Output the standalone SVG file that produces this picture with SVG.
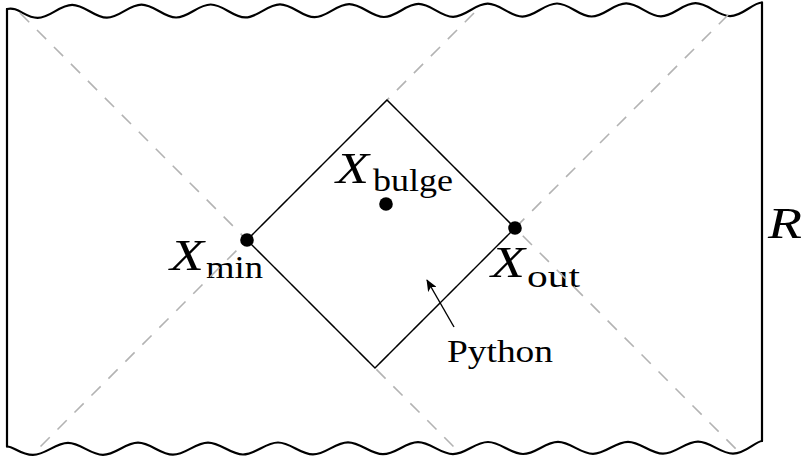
<svg xmlns="http://www.w3.org/2000/svg" width="807" height="458" viewBox="0 0 807 458">
<style>
.wall{fill:none;stroke:#000;stroke-width:2.2;stroke-linejoin:round;stroke-linecap:round}
.dash{fill:none;stroke:#b3b3b3;stroke-width:1.6;stroke-dasharray:13 11}
.edge{fill:none;stroke:#000;stroke-width:1.4;stroke-linejoin:miter}
.dot{fill:#000}
.mX{font-family:"Liberation Serif","DejaVu Serif",serif;font-style:italic;font-size:45px;fill:#000}
.sub{font-family:"Liberation Serif","DejaVu Serif",serif;font-size:31px;fill:#000}
.lbl{font-family:"Liberation Serif","DejaVu Serif",serif;font-size:32px;fill:#000}
.arr{fill:none;stroke:#000;stroke-width:1.4}
</style>
<defs>
<marker id="ah" viewBox="0 0 12 10" refX="11" refY="5" markerWidth="12" markerHeight="10" markerUnits="userSpaceOnUse" orient="auto">
<path d="M0,0 L12,5 L0,10 L3,5 Z" fill="#000"/>
</marker>
</defs>
<rect width="807" height="458" fill="#fff"/>
<g id="frame">
<path class="wall" d="M7,9 C18,6 25,17.9 37.6,17.9 S59.6,4.8 72.2,4.8 S94.3,17.7 106.9,17.7 S128.9,4.6 141.5,4.6 S163.5,17.5 176.1,17.5 S198.1,4.5 210.7,4.5 S232.8,17.4 245.4,17.4 S267.4,4.3 280,4.3 S302,17.2 314.6,17.2 S336.6,4.1 349.2,4.1 S371.3,17 383.9,17 S405.9,3.9 418.5,3.9 S440.5,16.8 453.1,16.8 S475.1,3.7 487.7,3.7 S509.8,16.6 522.4,16.6 S544.4,3.5 557,3.5 S579,16.5 591.6,16.5 S613.6,3.4 626.2,3.4 S648.3,16.3 660.9,16.3 S682.9,3.2 695.5,3.2 S717.5,16.1 730.1,16.1 S752,3 762,2.5"/>
<path class="wall" d="M7,446.5 C13,446 20.3,454.9 33,454.9 S55.3,442.9 68,442.9 S90.3,454.8 103,454.8 S125.3,442.7 138,442.7 S160.3,454.7 173,454.7 S195.3,442.6 208,442.6 S230.3,454.5 243,454.5 S265.3,442.5 278,442.5 S300.3,454.4 313,454.4 S335.3,442.3 348,442.3 S370.3,454.2 383,454.2 S405.3,442.2 418,442.2 S440.3,454.1 453,454.1 S475.3,442 488,442 S510.3,454 523,454 S545.3,441.9 558,441.9 S580.3,453.8 593,453.8 S615.3,441.8 628,441.8 S650.3,453.7 663,453.7 S685.3,441.6 698,441.6 S720.3,453.6 733,453.6 S755,441.5 762,441"/>
<path class="wall" d="M7,9 L7,446.5"/>
<path class="wall" d="M762,2.5 L762,441"/>
</g>
<g id="labels">
<g id="n-xbulge-label"><text class="mX" x="336" y="183" textLength="33" lengthAdjust="spacingAndGlyphs">X</text><text class="sub" x="373" y="191" textLength="80" lengthAdjust="spacingAndGlyphs">bulge</text></g>
<g id="n-xmin-label"><text class="mX" x="170" y="270" textLength="34" lengthAdjust="spacingAndGlyphs">X</text><text class="sub" x="206" y="278" textLength="57" lengthAdjust="spacingAndGlyphs">min</text></g>
<g id="n-xout-label"><text class="mX" x="491" y="277" textLength="34" lengthAdjust="spacingAndGlyphs">X</text><text class="sub" x="527" y="287" textLength="53" lengthAdjust="spacingAndGlyphs">out</text></g>
<g id="n-python"><text class="lbl" x="447" y="362" textLength="106" lengthAdjust="spacingAndGlyphs">Python</text></g>
<g id="n-R"><text class="mX" x="768" y="238" textLength="34" lengthAdjust="spacingAndGlyphs">R</text></g>
</g>
<g id="guides">
<path class="dash" d="M20,13 L459,452"/>
<path class="dash" d="M474,13 L33,454"/>
<path class="dash" d="M728,15 L375,368"/>
<path class="dash" d="M387,100 L737,450"/>
</g>
<g id="diamond">
<path class="edge" d="M387,100 L515,228 L375,368 L247,240 Z"/>
</g>
<g id="n-xmin"><circle class="dot" cx="247" cy="240" r="6.8"/></g>
<g id="n-xout"><circle class="dot" cx="515" cy="228" r="6.8"/></g>
<g id="n-xbulge"><circle class="dot" cx="386" cy="204" r="6.8"/></g>
<g id="connectors">
<path class="arr" d="M454,327 L427,280" marker-end="url(#ah)"/>
</g>
</svg>
